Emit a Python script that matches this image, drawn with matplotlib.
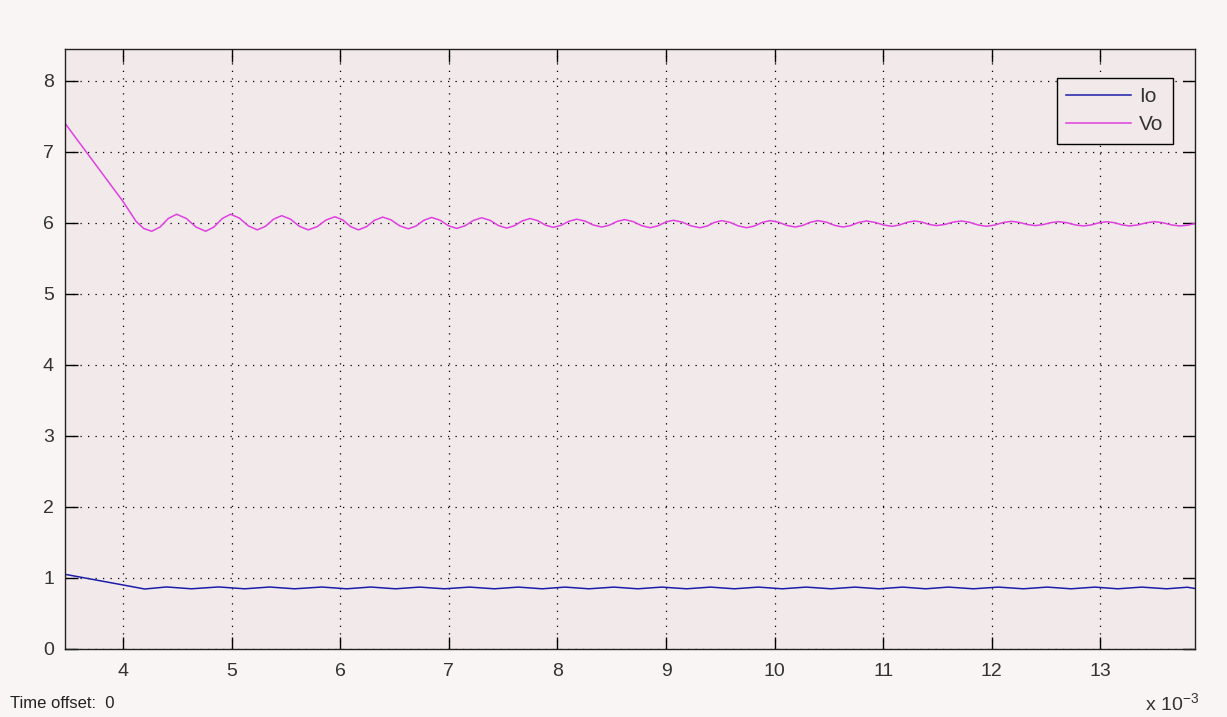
import matplotlib.pyplot as plt

# time axis in units of 1e-3 s (scope shows "x 10^-3")
vo_t = [3.466, 4.0, 4.12, 4.19, 4.264, 4.341, 4.417, 4.494, 4.583, 4.672,
        4.761, 4.837, 4.914, 4.99, 5.072, 5.155, 5.237, 5.312, 5.386, 5.461,
        5.543, 5.624, 5.706, 5.788, 5.870, 5.952, 6.024, 6.095, 6.167, 6.242,
        6.316, 6.391, 6.470, 6.548, 6.627, 6.699, 6.770, 6.842, 6.919, 6.996,
        7.073, 7.150, 7.226, 7.303, 7.380, 7.456, 7.533, 7.605, 7.676, 7.748,
        7.819, 7.891, 7.962, 8.034, 8.106, 8.178, 8.255, 8.331, 8.408, 8.479,
        8.549, 8.62, 8.698, 8.775, 8.853, 8.924, 8.996, 9.067, 9.149, 9.231,
        9.313, 9.380, 9.446, 9.513, 9.590, 9.666, 9.743, 9.815, 9.886, 9.958,
        10.035, 10.113, 10.19, 10.26, 10.33, 10.40, 10.477, 10.553, 10.63, 10.702,
        10.773, 10.845, 10.923, 11.002, 11.08, 11.15, 11.22, 11.29, 11.357, 11.423,
        11.49, 11.567, 11.643, 11.72, 11.797, 11.873, 11.95, 12.027, 12.103, 12.18,
        12.253, 12.327, 12.40, 12.472, 12.543, 12.615, 12.692, 12.768, 12.845, 12.917,
        12.988, 13.06, 13.13, 13.20, 13.27, 13.347, 13.423, 13.50, 13.577, 13.653,
        13.73, 13.80, 13.872]
vo = [7.40, 6.30, 6.02, 5.92, 5.88, 5.94, 6.06, 6.12, 6.06, 5.94,
      5.88, 5.94, 6.06, 6.12, 6.065, 5.955, 5.90, 5.95, 6.05, 6.10,
      6.05, 5.95, 5.90, 5.946, 6.039, 6.085, 6.039, 5.946, 5.90, 5.945,
      6.035, 6.08, 6.039, 5.956, 5.915, 5.955, 6.035, 6.075, 6.036, 5.959,
      5.92, 5.958, 6.033, 6.07, 6.034, 5.961, 5.925, 5.959, 6.026, 6.06,
      6.029, 5.966, 5.935, 5.964, 6.021, 6.05, 6.023, 5.968, 5.94, 5.966,
      6.019, 6.045, 6.016, 5.959, 5.93, 5.956, 6.009, 6.035, 6.009, 5.956,
      5.93, 5.955, 6.005, 6.03, 6.005, 5.955, 5.93, 5.955, 6.005, 6.03,
      6.008, 5.963, 5.94, 5.963, 6.008, 6.03, 6.008, 5.963, 5.94, 5.961,
      6.004, 6.025, 6.006, 5.969, 5.95, 5.969, 6.006, 6.025, 6.009, 5.976,
      5.96, 5.976, 6.009, 6.025, 6.006, 5.969, 5.95, 5.968, 6.003, 6.02,
      6.005, 5.975, 5.96, 5.974, 6.001, 6.015, 6.0, 5.97, 5.955, 5.97,
      6.0, 6.015, 6.0, 5.97, 5.955, 5.97, 6.0, 6.015, 6.0, 5.97,
      5.955, 5.965, 5.99]

io_t = [3.466, 4.0, 4.2, 4.40, 4.63, 4.88, 5.12, 5.35, 5.58, 5.83, 6.06,
        6.28, 6.51, 6.73, 6.96, 7.19, 7.42, 7.64, 7.86, 8.07, 8.29, 8.52,
        8.74, 8.96, 9.19, 9.41, 9.63, 9.85, 10.07, 10.29, 10.52, 10.74,
        10.96, 11.18, 11.39, 11.60, 11.83, 12.06, 12.29, 12.51, 12.73,
        12.95, 13.16, 13.38, 13.61, 13.80, 13.872]
io = [1.05, 0.90, 0.843, 0.872, 0.846, 0.872, 0.846, 0.871, 0.846, 0.871, 0.846,
      0.871, 0.846, 0.870, 0.846, 0.870, 0.846, 0.870, 0.846, 0.870, 0.846, 0.870,
      0.846, 0.870, 0.846, 0.870, 0.846, 0.870, 0.846, 0.870, 0.846, 0.870,
      0.846, 0.870, 0.846, 0.870, 0.846, 0.870, 0.846, 0.870, 0.846,
      0.870, 0.846, 0.870, 0.846, 0.868, 0.850]

xticks = [4, 5, 6, 7, 8, 9, 10, 11, 12, 13]
yticks = [0, 1, 2, 3, 4, 5, 6, 7, 8]

plt.rcParams["font.family"] = ["Liberation Sans", "DejaVu Sans"]

fig = plt.figure(figsize=(12.27, 7.17), dpi=100, facecolor="#f8f5f4")
ax = fig.add_axes([0.053, 0.095, 0.921, 0.837])
ax.set_facecolor("#f2eaea")

ax.plot(io_t, io, color="#1c1ca8", lw=1.1, label="Io")
ax.plot(vo_t, vo, color="#e040e0", lw=1.1, label="Vo")

ax.set_xlim(3.466, 13.872)
ax.set_ylim(0, 8.45)
ax.set_xticks(xticks)
ax.set_yticks(yticks)
ax.tick_params(direction="in", length=9, width=1, top=True, right=True,
               labelsize=14, labelcolor="#333333", pad=8)
ax.tick_params(axis="x", pad=10)
ax.grid(True, color="black", linestyle=(0, (1, 5)), linewidth=0.9)
for s in ax.spines.values():
    s.set_linewidth(1.0)
    s.set_color("#222222")

leg = ax.legend(loc="upper right", bbox_to_anchor=(0.9805, 0.952),
                fontsize=15, fancybox=False, framealpha=1,
                facecolor="#f2eaea", edgecolor="black", handlelength=3.1,
                labelspacing=0.45, borderpad=0.45, handletextpad=0.4,
                borderaxespad=0)
leg.get_frame().set_linewidth(1.0)
for t in leg.get_texts():
    t.set_color("#333333")

fig.text(0.008, 0.012, "Time offset:  0", fontsize=12, color="#222222")
fig.text(0.933, 0.008, r"x 10$^{\mathregular{-3}}$", fontsize=14, color="#333333")

fig.savefig("out.png", dpi=100, facecolor=fig.get_facecolor())
